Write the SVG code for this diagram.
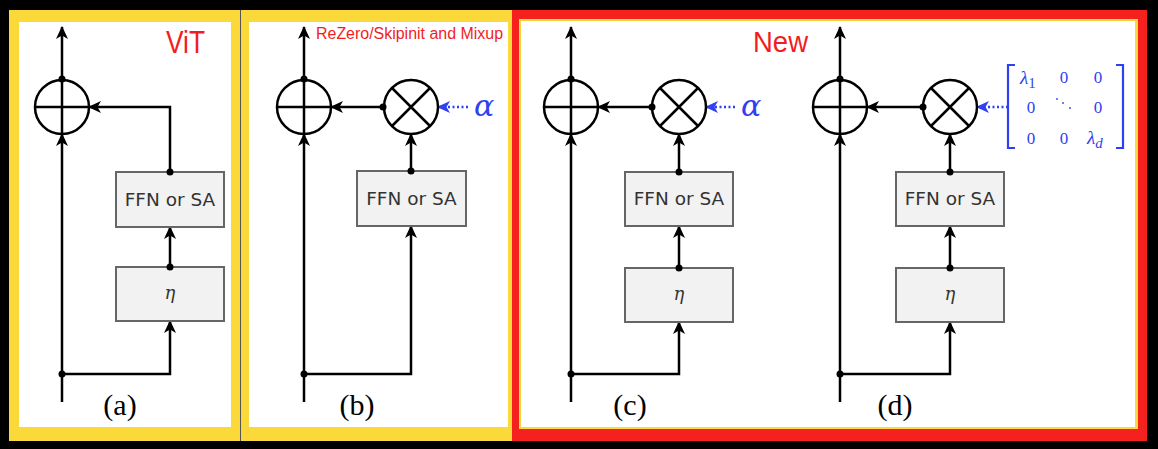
<svg xmlns="http://www.w3.org/2000/svg" width="1158" height="449" viewBox="0 0 1158 449">
<defs>
<marker id="ah" markerUnits="userSpaceOnUse" markerWidth="13" markerHeight="12" viewBox="0 0 13 12" refX="12" refY="6" orient="auto">
<path d="M0,0 L13,6 L0,12 L3.5,6 z" fill="#000"/>
</marker>
<marker id="ahb" markerUnits="userSpaceOnUse" markerWidth="13" markerHeight="12" viewBox="0 0 13 12" refX="12" refY="6" orient="auto">
<path d="M0,0 L13,6 L0,12 L3.5,6 z" fill="#2f3ff2"/>
</marker>
</defs>
<style>
.ln{fill:none;stroke:#000;stroke-width:2.5}
.ar{fill:none;stroke:#000;stroke-width:2.5;marker-end:url(#ah)}
.dar{fill:none;stroke:#2f3ff2;stroke-width:2.5;stroke-dasharray:2 2.5;marker-end:url(#ahb)}
.circ{fill:#fff;stroke:#000;stroke-width:2.5}
.dot{fill:#000}
.box{fill:#f2f2f2;stroke:#666;stroke-width:2}
.bt{font-family:"DejaVu Sans",sans-serif;font-size:18.5px;fill:#333;text-anchor:middle}
.eta{font-family:"DejaVu Serif","Liberation Serif",serif;font-style:italic;font-size:18px;fill:#333;text-anchor:middle}
.cap{font-family:"Liberation Serif",serif;font-size:30px;fill:#000;text-anchor:middle}
.red{font-family:"Liberation Sans",Arial,sans-serif;fill:#f21d1d}
.alpha{font-family:"DejaVu Serif","Liberation Serif",serif;font-style:italic;font-size:30px;fill:#2f3ff2}
.mx{font-family:"Liberation Serif",serif;font-size:17px;fill:#2f3ff2;text-anchor:middle}
.mxi{font-family:"Liberation Serif",serif;font-style:italic;font-size:19px;fill:#2f3ff2}
.brk{fill:none;stroke:#2f3ff2;stroke-width:2.2}
</style>
<rect width="1158" height="449" fill="#000"/>
<g id="frames">
<rect x="9" y="10" width="503" height="431" fill="#fcd93a"/>
<rect x="19" y="22" width="212" height="405" fill="#fff"/>
<rect x="249" y="22" width="259" height="405" fill="#fff"/>
<line x1="240.5" y1="10" x2="240.5" y2="441" stroke="#555" stroke-width="1"/>
<rect x="512" y="10" width="635" height="431" fill="#f5211e"/>
<rect x="519" y="19" width="619" height="410" fill="#fcd93a"/>
<rect x="521" y="21" width="614" height="406" fill="#fff"/>
</g>

<!-- Panel (a) -->
<g id="connectors-a">
<path class="ar" d="M62,79 V27"/>
<path class="ar" d="M62,402 V134"/>
<path class="ar" d="M62,374 H170 V321"/>
<path class="ar" d="M170,267 V227"/>
<path class="ar" d="M170,172 V107 H89"/>
</g>
<g id="a-plus"><circle class="circ" cx="62" cy="107" r="27"/><path class="ln" d="M35,107 H89 M62,80 V134"/></g>
<g id="a-ffn"><rect class="box" x="116" y="172" width="108" height="55"/><text class="bt" x="170" y="206">FFN or SA</text></g>
<g id="a-eta"><rect class="box" x="116" y="267" width="108" height="54"/><text class="eta" x="170" y="299">η</text></g>
<g id="a-dots"><circle class="dot" cx="62" cy="79" r="3.5"/><circle class="dot" cx="62" cy="374" r="3.5"/><circle class="dot" cx="170" cy="267" r="3.5"/><circle class="dot" cx="170" cy="172" r="3.5"/></g>
<g id="a-labels"><text class="red" x="166" y="53" font-size="32" textLength="39" lengthAdjust="spacingAndGlyphs">ViT</text><text class="cap" x="120" y="415">(a)</text></g>

<!-- Panel (b) -->
<g id="connectors-b">
<path class="ar" d="M304,79 V27"/>
<path class="ar" d="M304,402 V134"/>
<path class="ar" d="M304,374 H411 V226"/>
<path class="ar" d="M411,171 V134"/>
<path class="ar" d="M383,107 H331"/>
<path class="dar" d="M468,107 H438"/>
</g>
<g id="b-plus"><circle class="circ" cx="304" cy="107" r="27"/><path class="ln" d="M277,107 H331 M304,80 V134"/></g>
<g id="b-times"><circle class="circ" cx="411" cy="107" r="27"/><path class="ln" d="M392,88 L430,126 M430,88 L392,126"/></g>
<g id="b-ffn"><rect class="box" x="357" y="171" width="109" height="55"/><text class="bt" x="411.5" y="205">FFN or SA</text></g>
<g id="b-dots"><circle class="dot" cx="304" cy="79" r="3.5"/><circle class="dot" cx="304" cy="374" r="3.5"/><circle class="dot" cx="411" cy="171" r="3.5"/><circle class="dot" cx="383" cy="107" r="3.5"/></g>
<g id="b-labels"><text class="alpha" x="474" y="116">α</text><text class="red" x="316" y="39" font-size="16" textLength="187" lengthAdjust="spacingAndGlyphs">ReZero/Skipinit and Mixup</text><text class="cap" x="357" y="415">(b)</text></g>

<!-- Panel (c) -->
<g id="connectors-c">
<path class="ar" d="M571,79 V27"/>
<path class="ar" d="M571,402 V134"/>
<path class="ar" d="M571,374 H679 V322"/>
<path class="ar" d="M679,268 V226"/>
<path class="ar" d="M679,172 V134"/>
<path class="ar" d="M652,107 H598"/>
<path class="dar" d="M735,107 H706"/>
</g>
<g id="c-plus"><circle class="circ" cx="571" cy="107" r="27"/><path class="ln" d="M544,107 H598 M571,80 V134"/></g>
<g id="c-times"><circle class="circ" cx="679" cy="107" r="27"/><path class="ln" d="M660,88 L698,126 M698,88 L660,126"/></g>
<g id="c-ffn"><rect class="box" x="625" y="172" width="108" height="54"/><text class="bt" x="679" y="205">FFN or SA</text></g>
<g id="c-eta"><rect class="box" x="625" y="268" width="108" height="54"/><text class="eta" x="679" y="300">η</text></g>
<g id="c-dots"><circle class="dot" cx="571" cy="79" r="3.5"/><circle class="dot" cx="571" cy="374" r="3.5"/><circle class="dot" cx="679" cy="268" r="3.5"/><circle class="dot" cx="679" cy="172" r="3.5"/><circle class="dot" cx="652" cy="107" r="3.5"/></g>
<g id="c-labels"><text class="alpha" x="741" y="116">α</text><text class="red" x="753" y="52" font-size="29" textLength="55" lengthAdjust="spacingAndGlyphs">New</text><text class="cap" x="630" y="415">(c)</text></g>

<!-- Panel (d) -->
<g id="connectors-d">
<path class="ar" d="M840,79 V27"/>
<path class="ar" d="M840,402 V134"/>
<path class="ar" d="M840,374 H950 V322"/>
<path class="ar" d="M950,268 V226"/>
<path class="ar" d="M950,172 V134"/>
<path class="ar" d="M923,107 H867"/>
<path class="dar" d="M1008,107 H977"/>
</g>
<g id="d-plus"><circle class="circ" cx="840" cy="107" r="27"/><path class="ln" d="M813,107 H867 M840,80 V134"/></g>
<g id="d-times"><circle class="circ" cx="950" cy="107" r="27"/><path class="ln" d="M931,88 L969,126 M969,88 L931,126"/></g>
<g id="d-ffn"><rect class="box" x="896" y="172" width="108" height="54"/><text class="bt" x="950" y="205">FFN or SA</text></g>
<g id="d-eta"><rect class="box" x="896" y="268" width="108" height="54"/><text class="eta" x="950" y="300">η</text></g>
<g id="d-dots"><circle class="dot" cx="840" cy="79" r="3.5"/><circle class="dot" cx="840" cy="374" r="3.5"/><circle class="dot" cx="950" cy="268" r="3.5"/><circle class="dot" cx="950" cy="172" r="3.5"/><circle class="dot" cx="923" cy="107" r="3.5"/></g>
<g id="d-matrix">
<path class="brk" d="M1015,65 H1008 V148 H1015 M1116,65 H1123 V148 H1116"/>
<text class="mxi" x="1020" y="84">λ<tspan font-style="normal" font-size="15" dy="4">1</tspan></text>
<text class="mx" x="1064" y="83">0</text>
<text class="mx" x="1098" y="83">0</text>
<text class="mx" x="1031" y="113">0</text>
<circle cx="1057" cy="99" r="0.9" fill="#2f3ff2"/><circle cx="1063" cy="103" r="0.9" fill="#2f3ff2"/><circle cx="1070" cy="108" r="0.9" fill="#2f3ff2"/>
<text class="mx" x="1098" y="113">0</text>
<text class="mx" x="1031" y="144">0</text>
<text class="mx" x="1064" y="144">0</text>
<text class="mxi" x="1087" y="144">λ<tspan font-size="15" dy="4">d</tspan></text>
</g>
<g id="d-labels"><text class="cap" x="895" y="415">(d)</text></g>
</svg>
